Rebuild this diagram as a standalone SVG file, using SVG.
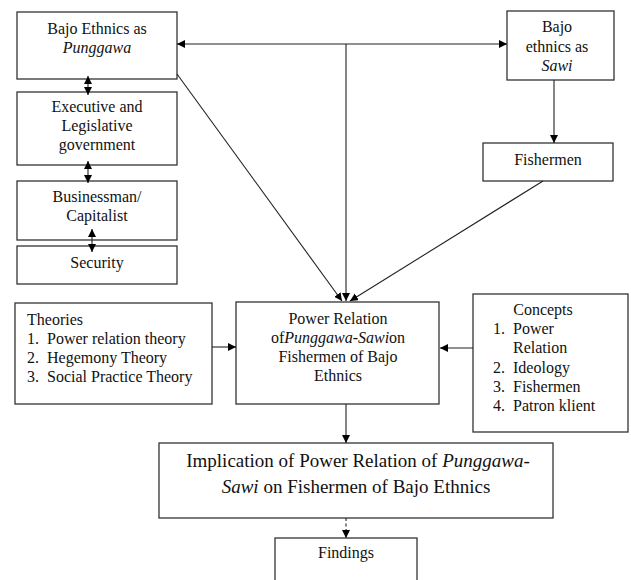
<svg xmlns="http://www.w3.org/2000/svg" width="631" height="580" viewBox="0 0 631 580">
<defs>
<marker id="ah" viewBox="0 0 10 10" refX="10" refY="5" markerWidth="8" markerHeight="8" markerUnits="userSpaceOnUse" orient="auto-start-reverse">
<path d="M0,0 L10,5 L0,10 z" fill="#000"/>
</marker>
<style>
.box{fill:#fff;stroke:#333;stroke-width:1.3}
.t{font-family:"Liberation Serif",Tinos,"Times New Roman",Times,"DejaVu Serif",serif;font-size:16px;fill:#111}
.c{text-anchor:middle}
.big{font-size:19px}
.ln{fill:none;stroke:#222;stroke-width:1.1}
</style>
</defs>
<g id="punggawa">
<rect class="box" x="17" y="12" width="160" height="67"/>
<text class="t c" x="97" y="34">Bajo Ethnics as</text>
<text class="t c" x="97" y="53" font-style="italic">Punggawa</text>
</g>
<g id="executive">
<rect class="box" x="17" y="92" width="160" height="73"/>
<text class="t c" x="97" y="112">Executive and</text>
<text class="t c" x="97" y="131">Legislative</text>
<text class="t c" x="97" y="150">government</text>
</g>
<g id="businessman">
<rect class="box" x="17" y="181" width="160" height="59"/>
<text class="t c" x="97" y="202">Businessman/</text>
<text class="t c" x="97" y="221">Capitalist</text>
</g>
<g id="security">
<rect class="box" x="17" y="246" width="160" height="38"/>
<text class="t c" x="97" y="268">Security</text>
</g>
<g id="sawi">
<rect class="box" x="507" y="11" width="107" height="69"/>
<text class="t c" x="557" y="32">Bajo</text>
<text class="t c" x="557" y="52">ethnics as</text>
<text class="t c" x="557" y="71" font-style="italic">Sawi</text>
</g>
<g id="fishermen">
<rect class="box" x="483" y="143" width="130" height="38"/>
<text class="t c" x="548" y="165">Fishermen</text>
</g>
<g id="theories">
<rect class="box" x="15" y="303" width="197" height="101"/>
<text class="t" x="27" y="325">Theories</text>
<text class="t" x="27" y="344">1.</text><text class="t" x="47" y="344">Power relation theory</text>
<text class="t" x="27" y="363">2.</text><text class="t" x="47" y="363">Hegemony Theory</text>
<text class="t" x="27" y="382">3.</text><text class="t" x="47" y="382">Social Practice Theory</text>
</g>
<g id="powerrelation">
<rect class="box" x="236" y="302" width="203" height="102"/>
<text class="t c" x="338" y="324">Power Relation</text>
<text class="t c" x="338" y="343">of<tspan font-style="italic">Punggawa-Sawi</tspan>on</text>
<text class="t c" x="338" y="362">Fishermen of Bajo</text>
<text class="t c" x="338" y="381">Ethnics</text>
</g>
<g id="concepts">
<rect class="box" x="473" y="294" width="155" height="138"/>
<text class="t c" x="543" y="315">Concepts</text>
<text class="t" x="493" y="334">1.</text><text class="t" x="513" y="334">Power</text>
<text class="t" x="513" y="353">Relation</text>
<text class="t" x="493" y="373">2.</text><text class="t" x="513" y="373">Ideology</text>
<text class="t" x="493" y="392">3.</text><text class="t" x="513" y="392">Fishermen</text>
<text class="t" x="493" y="411">4.</text><text class="t" x="513" y="411">Patron klient</text>
</g>
<g id="implication">
<rect class="box" x="159" y="443" width="394" height="75"/>
<text class="t big c" x="358" y="467">Implication of Power Relation of <tspan font-style="italic">Punggawa-</tspan></text>
<text class="t big c" x="356" y="493"><tspan font-style="italic">Sawi</tspan> on Fishermen of Bajo Ethnics</text>
</g>
<g id="findings">
<rect class="box" x="275" y="538" width="142" height="60"/>
<text class="t c" x="346" y="558">Findings</text>
</g>
<g id="connectors">
<line class="ln" x1="177" y1="44" x2="507" y2="44" marker-start="url(#ah)" marker-end="url(#ah)"/>
<line class="ln" x1="346" y1="44" x2="346" y2="301" marker-end="url(#ah)"/>
<line class="ln" x1="177" y1="74" x2="342" y2="301" marker-end="url(#ah)"/>
<line class="ln" x1="543" y1="181" x2="350" y2="301" marker-end="url(#ah)"/>
<line class="ln" x1="554" y1="80" x2="554" y2="143" marker-end="url(#ah)"/>
<line class="ln" x1="88" y1="76" x2="88" y2="95" marker-start="url(#ah)" marker-end="url(#ah)"/>
<line class="ln" x1="88" y1="161" x2="88" y2="183" marker-start="url(#ah)" marker-end="url(#ah)"/>
<line class="ln" x1="92" y1="229" x2="92" y2="252" marker-start="url(#ah)" marker-end="url(#ah)"/>
<line class="ln" x1="212" y1="347" x2="236" y2="347" marker-end="url(#ah)"/>
<line class="ln" x1="473" y1="348" x2="440" y2="348" marker-end="url(#ah)"/>
<line class="ln" x1="346" y1="404" x2="346" y2="443" marker-end="url(#ah)"/>
<line class="ln" x1="346" y1="518" x2="346" y2="538" stroke-dasharray="3,2.5" marker-end="url(#ah)"/>
</g>
</svg>
